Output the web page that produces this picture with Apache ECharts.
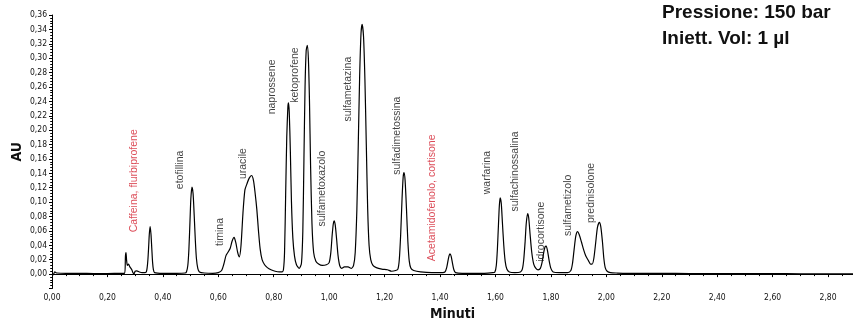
<!DOCTYPE html>
<html>
<head>
<meta charset="utf-8">
<script src="https://cdn.jsdelivr.net/npm/echarts@6/dist/echarts.min.js"></script>
<style>html,body{margin:0;padding:0;background:#fff}#c{width:853px;height:321px}</style>
</head>
<body>
<div id="c"></div>
<script>
// Chromatogram trace: time (min) and absorbance (AU)
const minutes = [
0.000,0.004,0.010,0.018,0.050,0.100,0.150,0.200,0.250,0.262,0.265,0.267,0.269,0.272,0.276,0.281,0.288,0.292,0.296,0.300,0.306,0.315,0.325,0.335,
0.340,0.343,0.346,0.349,0.351,0.354,0.357,0.360,0.363,0.366,0.370,0.400,0.450,0.480,
0.485,0.490,0.494,0.498,0.501,0.505,0.509,0.513,0.517,0.521,0.526,0.532,0.550,0.580,0.600,
0.612,0.620,0.628,0.636,0.643,0.650,0.657,0.663,0.670,0.676,0.682,0.689,0.696,0.703,0.711,0.720,0.727,0.733,0.739,0.745,0.751,0.758,0.767,0.777,0.790,0.805,0.820,0.830,
0.835,0.839,0.843,0.847,0.851,0.853,0.856,0.860,0.864,0.869,0.875,0.882,0.892,0.900,0.905,0.909,0.913,0.917,0.921,0.925,0.929,0.933,0.938,0.944,0.952,0.962,0.975,0.990,
1.000,1.006,1.011,1.015,1.018,1.022,1.027,1.032,1.038,1.045,1.055,1.068,1.080,1.088,1.094,1.100,1.105,1.110,1.115,1.119,1.124,1.129,1.134,1.139,1.144,1.150,1.158,1.170,1.190,1.210,1.225,1.240,
1.248,1.253,1.258,1.263,1.267,1.270,1.274,1.279,1.284,1.289,1.295,1.305,1.330,1.370,1.410,
1.418,1.424,1.429,1.433,1.436,1.440,1.445,1.450,1.456,1.480,1.520,1.560,1.590,
1.598,1.603,1.607,1.611,1.614,1.617,1.621,1.625,1.630,1.635,1.641,1.650,1.670,1.690,
1.697,1.702,1.707,1.711,1.716,1.720,1.725,1.731,1.738,1.746,1.754,
1.762,1.768,1.774,1.779,1.783,1.788,1.794,1.800,1.808,1.830,1.860,1.872,
1.878,1.884,1.890,1.896,1.902,1.910,1.918,1.926,1.935,1.943,1.949,1.955,1.962,1.968,1.975,1.980,1.986,1.991,1.996,2.003,2.015,2.040,
2.100,2.200,2.300,2.400,2.500,2.600,2.700,2.800,2.890
];
const absorbance = [
0.000,-0.001,0.003,0.0015,0.001,0.001,0.0008,0.0008,0.001,0.001,0.025,0.030,0.020,0.012,0.014,0.010,0.006,0.002,0.0005,0.004,0.0045,0.003,0.002,0.002,
0.003,0.008,0.020,0.040,0.055,0.066,0.056,0.036,0.016,0.006,0.002,0.001,0.001,0.0015,
0.003,0.012,0.035,0.075,0.105,0.121,0.112,0.082,0.048,0.022,0.008,0.003,0.0015,0.001,0.002,
0.005,0.014,0.026,0.031,0.036,0.046,0.051,0.044,0.030,0.024,0.040,0.085,0.117,0.125,0.133,0.137,0.130,0.112,0.090,0.060,0.035,0.020,0.013,0.009,0.006,0.004,0.003,0.003,
0.006,0.030,0.110,0.190,0.232,0.238,0.225,0.170,0.100,0.050,0.025,0.013,0.008,0.015,0.060,0.160,0.260,0.310,0.318,0.300,0.240,0.150,0.070,0.030,0.018,0.014,0.012,0.013,
0.016,0.030,0.055,0.070,0.074,0.068,0.048,0.026,0.012,0.008,0.010,0.010,0.008,0.012,0.030,0.090,0.180,0.275,0.335,0.347,0.330,0.270,0.180,0.090,0.040,0.020,0.012,0.009,0.007,0.006,0.004,0.005,
0.007,0.020,0.055,0.105,0.135,0.141,0.130,0.090,0.045,0.018,0.008,0.005,0.003,0.002,0.002,
0.003,0.009,0.019,0.026,0.028,0.025,0.015,0.006,0.002,0.001,0.001,0.001,0.002,
0.003,0.012,0.035,0.070,0.095,0.106,0.098,0.072,0.040,0.018,0.007,0.003,0.002,0.003,
0.007,0.020,0.045,0.070,0.084,0.078,0.055,0.030,0.014,0.008,0.006,
0.008,0.016,0.030,0.038,0.039,0.032,0.018,0.008,0.003,0.002,0.002,0.005,
0.015,0.035,0.053,0.059,0.055,0.045,0.034,0.025,0.019,0.014,0.014,0.022,0.045,0.065,0.072,0.066,0.045,0.022,0.009,0.004,0.002,0.0015,
0.001,0.001,0.0008,0.0008,0.0006,0.0006,0.0005,0.0005,0.0005
];
// Peak annotations: name, time (min) and AU level where the vertical text starts
const peakNames = ["Caffeina, flurbiprofene","etofillina","timina","uracile","naprossene","ketoprofene","sulfametoxazolo","sulfametazina","sulfadimetossina","Acetamidofenolo, cortisone","warfarina","sulfachinossalina","idrocortisone","sulfametizolo","prednisolone"];
const peakTimes = [0.296,0.462,0.606,0.689,0.794,0.877,0.974,1.068,1.245,1.371,1.570,1.671,1.764,1.862,1.945];
const peakLevels = [0.058,0.118,0.039,0.132,0.222,0.238,0.066,0.212,0.138,0.018,0.111,0.087,0.017,0.053,0.071];
const coeluting = ["Caffeina, flurbiprofene","Acetamidofenolo, cortisone"];

const fmt = v => v.toFixed(2).replace('.', ',');
const traceData = minutes.map((t, i) => [t, absorbance[i]]);
const labelData = peakNames.map((n, i) => ({
  name: n,
  value: [peakTimes[i], peakLevels[i]],
  label: { color: coeluting.includes(n) ? '#d3202f' : '#111' }
}));
const condensed = "'DejaVu Sans Condensed', 'Liberation Sans', sans-serif";

const chart = echarts.init(document.getElementById('c'));
chart.setOption({
  animation: false,
  backgroundColor: '#fff',
  title: {
    left: 657, top: -5,
    text: '{b|Pressione:} {r|150 bar}\n{b|Iniett. Vol:} {r|1 µl}',
    textStyle: {
      rich: {
        b: { fontFamily: 'Liberation Sans', fontWeight: 'bold', fontSize: 19, color: '#111', lineHeight: 26 },
        r: { fontFamily: 'Liberation Sans', fontSize: 19, color: '#111', lineHeight: 26 }
      }
    }
  },
  grid: { left: 52, right: 0, top: 15, bottom: 32.5, containLabel: false, outerBoundsMode: 'none' },
  xAxis: {
    type: 'value', min: 0, max: 2.89, interval: 0.2,
    name: 'Minuti', nameLocation: 'middle', nameGap: 19, nameMoveOverlap: false,
    nameTextStyle: { fontFamily: condensed, fontWeight: 'bold', fontSize: 14, color: '#111' },
    axisLine: { lineStyle: { color: '#000', width: 1 } },
    axisTick: { length: 3, lineStyle: { color: '#000' } },
    minorTick: { show: true, splitNumber: 4, length: 2, lineStyle: { color: '#000' } },
    splitLine: { show: false },
    axisLabel: { formatter: fmt, showMaxLabel: false, fontFamily: condensed, fontSize: 8.5, color: '#111', margin: 5 }
  },
  yAxis: {
    type: 'value', min: -0.02, max: 0.36, interval: 0.02,
    name: 'AU', nameLocation: 'middle', nameGap: 28, nameRotate: 90, nameMoveOverlap: false,
    nameTextStyle: { fontFamily: condensed, fontWeight: 'bold', fontSize: 14, color: '#111' },
    axisLine: { show: true, lineStyle: { color: '#000', width: 1 } },
    axisTick: { show: true, length: 3, lineStyle: { color: '#000' } },
    minorTick: { show: true, splitNumber: 5, length: 1.8, lineStyle: { color: '#000' } },
    splitLine: { show: false },
    axisLabel: { formatter: v => v < -1e-9 ? '' : fmt(v), fontFamily: condensed, fontSize: 8.5, color: '#111', margin: 5 }
  },
  series: [
    {
      type: 'line', data: traceData, showSymbol: false, smooth: 0.25,
      lineStyle: { color: '#000', width: 1.2 }, z: 3
    },
    {
      type: 'scatter', data: labelData, symbolSize: 1,
      itemStyle: { color: 'rgba(0,0,0,0)' },
      label: {
        show: true, position: 'inside', rotate: 90, align: 'left', verticalAlign: 'middle',
        formatter: p => p.name, fontFamily: 'Liberation Sans', fontSize: 10.5
      },
      z: 4
    }
  ]
});
</script>
</body>
</html>
